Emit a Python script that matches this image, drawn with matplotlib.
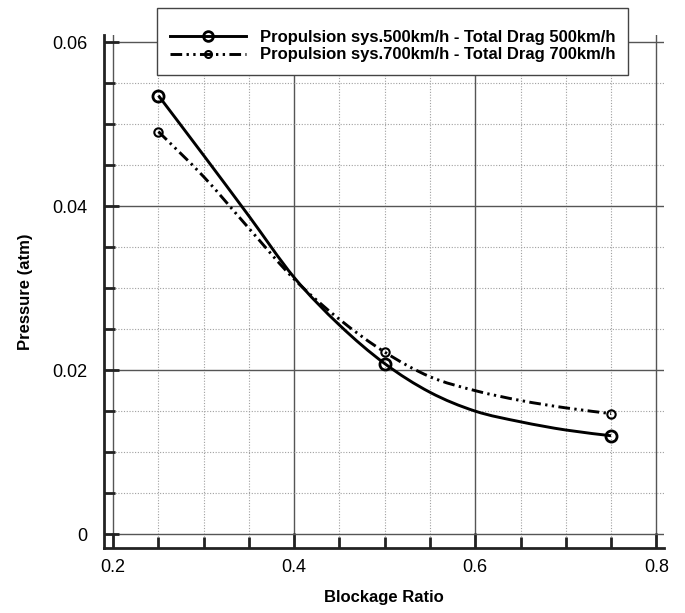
import numpy as np
import matplotlib
matplotlib.use("Agg")
import matplotlib.pyplot as plt
from matplotlib.ticker import MultipleLocator, FixedLocator
from matplotlib.path import Path
from matplotlib.patches import PathPatch

plt.rcParams['font.family'] = ['Liberation Sans', 'DejaVu Sans']

# values
ratio = [0.25, 0.30, 0.35, 0.40, 0.45, 0.50, 0.55, 0.60, 0.65, 0.70, 0.75]
drag_500 = [0.0535, 0.0462, 0.0388, 0.0313, 0.0255, 0.0208, 0.0173, 0.0150, 0.0137, 0.0127, 0.0120]
drag_700 = [0.0491, 0.0436, 0.0373, 0.0311, 0.0262, 0.0222, 0.0192, 0.0175, 0.0163, 0.0154, 0.0147]
mark_x = [0.25, 0.50, 0.75]
label_500 = "Propulsion sys.500km/h - Total Drag 500km/h"
label_700 = "Propulsion sys.700km/h - Total Drag 700km/h"
xticks = [0.2, 0.4, 0.6, 0.8]
yticks = [0, 0.02, 0.04, 0.06]
ytick_labels = ["0", "0.02", "0.04", "0.06"]

DASH = (4, 1.5, 0.8, 1.5, 0.8, 1.5)


def smooth_path(xs, ys):
    # catmull-rom style bezier through the read points
    p = np.column_stack([xs, ys])
    verts = [p[0]]
    codes = [Path.MOVETO]
    for i in range(len(p) - 1):
        p0 = p[i - 1] if i > 0 else p[i]
        p3 = p[i + 2] if i + 2 < len(p) else p[i + 1]
        c1 = p[i] + (p[i + 1] - p0) / 6
        c2 = p[i + 1] - (p3 - p[i]) / 6
        verts += [c1, c2, p[i + 1]]
        codes += [Path.CURVE4] * 3
    return Path(verts, codes)


fig = plt.figure(figsize=(6.85, 6.13), dpi=100)
ax = fig.add_axes([0.152, 0.106, 0.818, 0.837])

m500 = [drag_500[ratio.index(v)] for v in mark_x]
m700 = [drag_700[ratio.index(v)] for v in mark_x]

ax.add_patch(PathPatch(smooth_path(ratio, drag_500), fill=False, edgecolor='black', lw=2.1))
ax.add_patch(PathPatch(smooth_path(ratio, drag_700), fill=False, edgecolor='black', lw=2.1,
                       linestyle=(0, DASH)))
ax.plot(mark_x, m500, 'o', color='black', mfc='none', ms=8, mew=2)
ax.plot(mark_x, m700, 'o', color='black', mfc='none', ms=6, mew=1.5)

# legend handles: line + marker combined
h1, = ax.plot([], [], color='black', lw=2.1, marker='o', mfc='none', ms=7, mew=2, label=label_500)
h2, = ax.plot([], [], color='black', lw=2.1, dashes=DASH,
              marker='o', mfc='none', ms=5, mew=1.5, label=label_700)

ax.set_xlim(0.19, 0.809)
ax.set_ylim(-0.0017, 0.0609)

ax.xaxis.set_major_locator(FixedLocator(xticks))
ax.xaxis.set_minor_locator(MultipleLocator(0.05))
ax.yaxis.set_major_locator(FixedLocator(yticks))
ax.yaxis.set_minor_locator(MultipleLocator(0.005))
ax.set_xticklabels([str(v) for v in xticks])
ax.set_yticklabels(ytick_labels)

ax.grid(which='major', color='#555555', lw=1, ls='-')
ax.grid(which='minor', color='#a0a0a0', lw=0.8, ls=(0, (1, 1.5)))
ax.set_axisbelow(True)

for s in ['top', 'right']:
    ax.spines[s].set_visible(False)
for s in ['left', 'bottom']:
    ax.spines[s].set_linewidth(2)
    ax.spines[s].set_color('#222222')

ax.tick_params(which='both', direction='in', width=2, color='#222222', labelsize=13)
ax.tick_params(which='major', length=11)
ax.tick_params(which='minor', length=8)
ax.tick_params(axis='x', pad=8)
ax.tick_params(axis='y', pad=12)

ax.set_xlabel("Blockage Ratio", fontsize=12, fontweight='bold', labelpad=10)
ax.set_ylabel("Pressure (atm)", fontsize=12, fontweight='bold', labelpad=14)

# blank title gives the extra space above the rows seen in the reference
leg = fig.legend(handles=[h1, h2], loc='upper left',
                 bbox_to_anchor=(157 / 685, 1 - 8 / 613),
                 fancybox=False, framealpha=1, edgecolor='#444444',
                 prop={'weight': 'bold', 'size': 12},
                 title=' ', title_fontsize=5.5,
                 handlelength=4.6, borderpad=0.75, labelspacing=0.15,
                 handletextpad=0.85, borderaxespad=0)
leg.get_frame().set_linewidth(1)

fig.savefig("out.png", dpi=100)
